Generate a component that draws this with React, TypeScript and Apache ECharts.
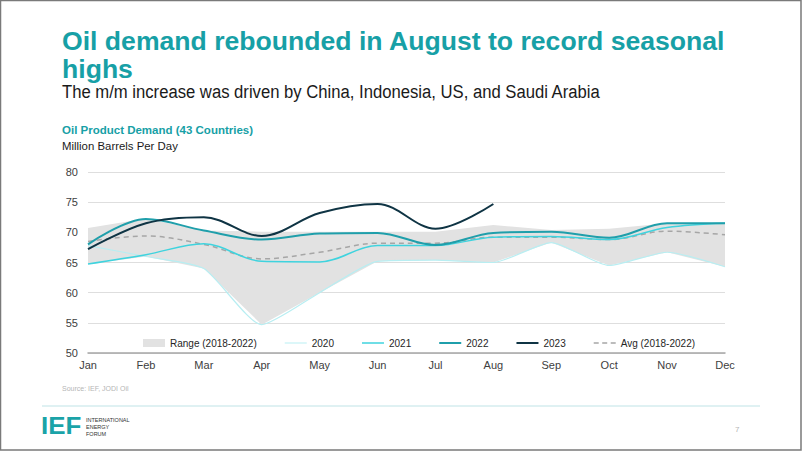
import React, { useEffect, useRef } from "react";
import * as echarts from "echarts";

const months = ["Jan", "Feb", "Mar", "Apr", "May", "Jun", "Jul", "Aug", "Sep", "Oct", "Nov", "Dec"];
const rangeLow = [64.7, 66.0, 64.0, 54.7, 60.0, 65.2, 65.4, 65.0, 68.3, 64.5, 66.7, 64.3];
const rangeHigh = [70.7, 72.3, 70.3, 70.1, 70.1, 70.1, 70.1, 71.2, 70.4, 70.6, 71.5, 71.5];
const y2020 = [67.8, 66.0, 64.0, 54.7, 60.0, 65.2, 65.4, 65.0, 68.3, 64.5, 66.7, 64.3];
const y2021 = [64.75, 66.3, 68.1, 65.2, 65.1, 67.8, 67.8, 69.2, 69.3, 68.8, 70.8, 71.5];
const y2022 = [68.0, 72.2, 70.3, 68.8, 69.8, 69.9, 67.9, 69.9, 70.1, 69.1, 71.5, 71.5];
const y2023 = [67.2, 71.5, 72.5, 69.4, 73.2, 74.7, 70.6, 74.7];
const avg = [68.5, 69.4, 68.0, 65.6, 66.7, 68.2, 68.2, 69.2, 69.2, 68.8, 70.2, 69.6];
const yTicks = [50, 55, 60, 65, 70, 75, 80];

const TEAL = "#17a0a6";
const FONT = "'Liberation Sans', Arial, sans-serif";

export default function App() {
  const ref = useRef<HTMLDivElement>(null);
  useEffect(() => {
    document.body.style.margin = "0";
    const chart = echarts.init(ref.current!, null, { renderer: "svg" });
    const rangeDiff = rangeHigh.map((h, i) => +(h - rangeLow[i]).toFixed(2));
    chart.setOption({
      animation: false,
      backgroundColor: "#ffffff",
      textStyle: { fontFamily: FONT },
      grid: { left: 88, right: 77, top: 172, bottom: 98, containLabel: false },
      legend: {
        left: 138,
        top: 333,
        itemGap: 28,
        itemWidth: 22,
        itemHeight: 8,
        textStyle: { fontSize: 10, color: "#262626", fontFamily: FONT },
        data: [
          { name: "Range (2018-2022)", icon: "rect", itemStyle: { color: "#e2e2e2" } },
          { name: "2020", icon: "path://M0,4L22,4L22,5L0,5Z", itemStyle: { color: "#b8eef2" } },
          { name: "2021", icon: "path://M0,3.5L22,3.5L22,5L0,5Z", itemStyle: { color: "#3fd3de" } },
          { name: "2022", icon: "path://M0,3L22,3L22,5L0,5Z", itemStyle: { color: "#1f9fab" } },
          { name: "2023", icon: "path://M0,3L22,3L22,5L0,5Z", itemStyle: { color: "#0f3444" } },
          { name: "Avg (2018-2022)", icon: "path://M0,3.5L5,3.5L5,5L0,5ZM8.5,3.5L13.5,3.5L13.5,5L8.5,5ZM17,3.5L22,3.5L22,5L17,5Z", itemStyle: { color: "#a6a6a6" } },
        ],
      },
      xAxis: {
        type: "category",
        data: months,
        boundaryGap: false,
        axisLine: { lineStyle: { color: "#a6a6a6", width: 1.5 } },
        axisTick: { show: false },
        axisLabel: { color: "#404040", fontSize: 11, margin: 6, fontFamily: FONT },
        splitLine: { show: false },
      },
      yAxis: {
        type: "value",
        min: yTicks[0],
        max: yTicks[yTicks.length - 1],
        interval: 5,
        axisLine: { show: false },
        axisTick: { show: false },
        axisLabel: { color: "#404040", fontSize: 11, margin: 10, fontFamily: FONT },
        splitLine: { lineStyle: { color: "#dedede", width: 1 } },
      },
      series: [
        {
          name: "rangeBase",
          type: "line",
          stack: "range",
          data: rangeLow,
          symbol: "none",
          lineStyle: { opacity: 0 },
          silent: true,
        },
        {
          name: "Range (2018-2022)",
          type: "line",
          stack: "range",
          data: rangeDiff,
          symbol: "none",
          lineStyle: { opacity: 0 },
          itemStyle: { color: "#e2e2e2" },
          areaStyle: { color: "#e2e2e2", opacity: 1 },
          silent: true,
        },
        {
          name: "Avg (2018-2022)",
          type: "line",
          data: avg,
          symbol: "none",
          smooth: 0.35,
          itemStyle: { color: "#a6a6a6" },
          lineStyle: { color: "#a6a6a6", width: 1.5, type: [5, 4] },
        },
        {
          name: "2020",
          type: "line",
          data: y2020,
          symbol: "none",
          smooth: 0.2,
          itemStyle: { color: "#b8eef2" },
          lineStyle: { color: "#b8eef2", width: 1.2 },
        },
        {
          name: "2021",
          type: "line",
          data: y2021,
          symbol: "none",
          smooth: 0.35,
          itemStyle: { color: "#3fd3de" },
          lineStyle: { color: "#3fd3de", width: 1.5 },
        },
        {
          name: "2022",
          type: "line",
          data: y2022,
          symbol: "none",
          smooth: 0.35,
          itemStyle: { color: "#1f9fab" },
          lineStyle: { color: "#1f9fab", width: 2 },
        },
        {
          name: "2023",
          type: "line",
          data: y2023,
          symbol: "none",
          smooth: 0.35,
          itemStyle: { color: "#0f3444" },
          lineStyle: { color: "#0f3444", width: 2 },
        },
      ],
      graphic: [
        {
          type: "text",
          x: 62,
          y: 27,
          style: {
            text: "Oil demand rebounded in August to record seasonal\nhighs",
            font: `bold 26.6px ${FONT}`,
            fill: TEAL,
            lineHeight: 28,
          },
        },
        {
          type: "text",
          x: 62,
          y: 83,
          scaleX: 0.926,
          style: {
            text: "The m/m increase was driven by China, Indonesia, US, and Saudi Arabia",
            font: `18px ${FONT}`,
            fill: "#1a1a1a",
          },
        },
        {
          type: "text",
          x: 62,
          y: 124,
          style: { text: "Oil Product Demand (43 Countries)", font: `bold 11.5px ${FONT}`, fill: TEAL },
        },
        {
          type: "text",
          x: 62,
          y: 140,
          style: { text: "Million Barrels Per Day", font: `11.4px ${FONT}`, fill: "#1a1a1a" },
        },
        {
          type: "text",
          x: 62,
          y: 385,
          style: { text: "Source: IEF, JODI Oil", font: `7px ${FONT}`, fill: "#b5b5b5" },
        },
        {
          type: "line",
          shape: { x1: 42, y1: 406, x2: 760, y2: 406 },
          style: { stroke: "#bfe3e6", lineWidth: 1 },
        },
        {
          type: "text",
          x: 41,
          y: 413,
          scaleX: 1.08,
          style: { text: "IEF", font: `bold 24px ${FONT}`, fill: "#1aa3a8" },
        },
        {
          type: "text",
          x: 86,
          y: 416,
          style: { text: "INTERNATIONAL\nENERGY\nFORUM", font: `5.5px ${FONT}`, fill: "#333333", lineHeight: 7 },
        },
        {
          type: "text",
          x: 735,
          y: 425,
          style: { text: "7", font: `8px ${FONT}`, fill: "#b5b5b5" },
        },
        {
          type: "rect",
          shape: { x: 0.5, y: 0.5, width: 800.5, height: 449.5 },
          style: { fill: "none", stroke: "#7a7a7a", lineWidth: 1.5 },
          silent: true,
        },
      ],
    });
    return () => chart.dispose();
  }, []);
  return <div ref={ref} style={{ width: 802, height: 451, position: "absolute", left: 0, top: 0 }} />;
}
